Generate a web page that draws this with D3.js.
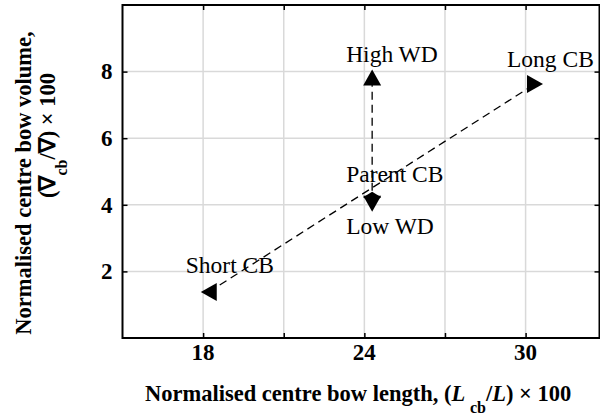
<!DOCTYPE html>
<html>
<head>
<meta charset="utf-8">
<script src="https://cdn.jsdelivr.net/npm/d3@7"></script>
<style>
    body { margin: 0; background: #fff; }
    svg { display: block; font-family: "Liberation Serif", "Times New Roman", serif; }
    .grid line { stroke: #d9d9d9; stroke-width: 1.5; }
    .tick-label { font-size: 23px; font-weight: bold; }
    .axis-title { font-size: 22.5px; font-weight: bold; }
    .pt-label { font-size: 23.5px; }
</style>
</head>
<body>
<svg id="chart" width="600" height="416"></svg>
<script>
"use strict";

// design cases
const caseNames = ["Short CB", "Long CB", "Parent CB", "Low WD", "High WD"];
const lengthValues = [18.21, 30.35, 24.29, 24.29, 24.29];   // (Lcb/L) x 100
const volumeValues = [1.38, 7.63, 4.23, 4.035, 7.82];        // (Vcb/V) x 100
const markerTypes = ["left", "right", "diamond", "down", "up"];

// dashed connectors (by case name)
const lengthSeries = ["Short CB", "Long CB"];
const widthSeries = ["Low WD", "High WD"];

const xTicks = [18, 21, 24, 27, 30];
const xTickLabels = ["18", "", "24", "", "30"];
const yTicks = [2, 4, 6, 8];
const yTickLabels = ["2", "4", "6", "8"];

const plot = {left: 122.5, right: 599.5, top: 5, bottom: 338};

const svg = d3.select("#chart");
const x = d3.scaleLinear().domain([15, 32.75]).range([plot.left, plot.right]);
const y = d3.scaleLinear().domain([0, 10]).range([plot.bottom, plot.top]);

const points = caseNames.map((name, i) => ({
    name,
    x: lengthValues[i],
    y: volumeValues[i],
    marker: markerTypes[i],
}));
const byName = new Map(points.map(p => [p.name, p]));

// grid
const grid = svg.append("g").classed("grid", true);
grid.selectAll("line.gx")
    .data(xTicks)
    .join("line")
    .attr("x1", d => x(d)).attr("x2", d => x(d))
    .attr("y1", plot.top).attr("y2", plot.bottom);
grid.selectAll("line.gy")
    .data(yTicks)
    .join("line")
    .attr("class", "gy")
    .attr("x1", plot.left).attr("x2", plot.right)
    .attr("y1", d => y(d)).attr("y2", d => y(d));

// axes, ticks pointing inward on all four sides
const tickLen = 5;
const inward = (axis, scale, ticks) => axis(scale).tickValues(ticks).tickSizeInner(-tickLen).tickSizeOuter(0).tickFormat("");
const styleAxis = g => g
    .call(g => g.select(".domain").remove())
    .call(g => g.selectAll("line").attr("stroke-width", 1.5));
svg.append("g").attr("transform", `translate(0,${plot.bottom})`).call(inward(d3.axisBottom, x, xTicks)).call(styleAxis);
svg.append("g").attr("transform", `translate(0,${plot.top})`).call(inward(d3.axisTop, x, xTicks)).call(styleAxis);
svg.append("g").attr("transform", `translate(${plot.left},0)`).call(inward(d3.axisLeft, y, yTicks)).call(styleAxis);
svg.append("g").attr("transform", `translate(${plot.right},0)`).call(inward(d3.axisRight, y, yTicks)).call(styleAxis);

svg.append("rect")
    .attr("x", plot.left).attr("y", plot.top)
    .attr("width", plot.right - plot.left).attr("height", plot.bottom - plot.top)
    .attr("fill", "none").attr("stroke", "#000").attr("stroke-width", 2);

// tick labels
svg.append("g").selectAll("text")
    .data(xTicks.map((t, i) => [t, xTickLabels[i]]))
    .join("text")
    .attr("class", "tick-label")
    .attr("x", d => x(d[0]))
    .attr("y", plot.bottom + 22)
    .attr("text-anchor", "middle")
    .text(d => d[1]);
svg.append("g").selectAll("text")
    .data(yTicks.map((t, i) => [t, yTickLabels[i]]))
    .join("text")
    .attr("class", "tick-label")
    .attr("x", plot.left - 10)
    .attr("y", d => y(d[0]))
    .attr("dy", "0.34em")
    .attr("text-anchor", "end")
    .text(d => d[1]);

// axis titles
const xt = svg.append("text")
    .attr("class", "axis-title")
    .attr("x", 145)
    .attr("y", 401);
xt.append("tspan").text("Normalised centre bow length, (");
xt.append("tspan").attr("font-style", "italic").text("L ");
xt.append("tspan").attr("font-size", "16px").attr("dy", 12).text("cb");
xt.append("tspan").attr("dy", -12).text("/");
xt.append("tspan").attr("font-style", "italic").text("L");
xt.append("tspan").text(") \u00d7 100");

svg.append("text")
    .attr("class", "axis-title")
    .attr("transform", "translate(31,183) rotate(-90)")
    .attr("text-anchor", "middle")
    .text("Normalised centre bow volume,");
const yt = svg.append("text")
    .attr("class", "axis-title")
    .attr("transform", "translate(55,198) rotate(-90)");
yt.append("tspan").text("(\u2207");
yt.append("tspan").attr("font-size", "16px").attr("dy", 12).text("cb");
yt.append("tspan").attr("dy", -12).text("/\u2207) \u00d7 100");

// dashed connectors
const line = d3.line().x(d => x(d.x)).y(d => y(d.y));
svg.append("g").selectAll("path")
    .data([lengthSeries, widthSeries].map(s => s.map(n => byName.get(n))))
    .join("path")
    .attr("d", line)
    .attr("fill", "none")
    .attr("stroke", "#000")
    .attr("stroke-width", 1.3)
    .attr("stroke-dasharray", "8,5");

// markers
const mw = 18, mh = 16;
const markerPath = {
    up: `M0,${-mh / 2}L${mw / 2},${mh / 2}L${-mw / 2},${mh / 2}Z`,
    down: `M0,${mh / 2}L${mw / 2},${-mh / 2}L${-mw / 2},${-mh / 2}Z`,
    left: `M${-mh / 2},0L${mh / 2},${-mw / 2}L${mh / 2},${mw / 2}Z`,
    right: `M${mh / 2},0L${-mh / 2},${-mw / 2}L${-mh / 2},${mw / 2}Z`,
    diamond: `M0,-5.5L9,0L0,6L-9,0Z`,
};
svg.append("g").selectAll("path")
    .data(points)
    .join("path")
    .attr("transform", d => `translate(${x(d.x)},${y(d.y)})`)
    .attr("d", d => markerPath[d.marker])
    .attr("fill", "#000");

// point labels, offset from marker centre
const labelOffset = {
    "Short CB": [-23, -19],
    "Long CB": [-28, -17],
    "Parent CB": [-26, -15.5],
    "Low WD": [-26, 30.5],
    "High WD": [-26, -15.5],
};
svg.append("g").selectAll("text")
    .data(points)
    .join("text")
    .attr("class", "pt-label")
    .attr("x", d => x(d.x) + labelOffset[d.name][0])
    .attr("y", d => y(d.y) + labelOffset[d.name][1])
    .text(d => d.name);
</script>
</body>
</html>
